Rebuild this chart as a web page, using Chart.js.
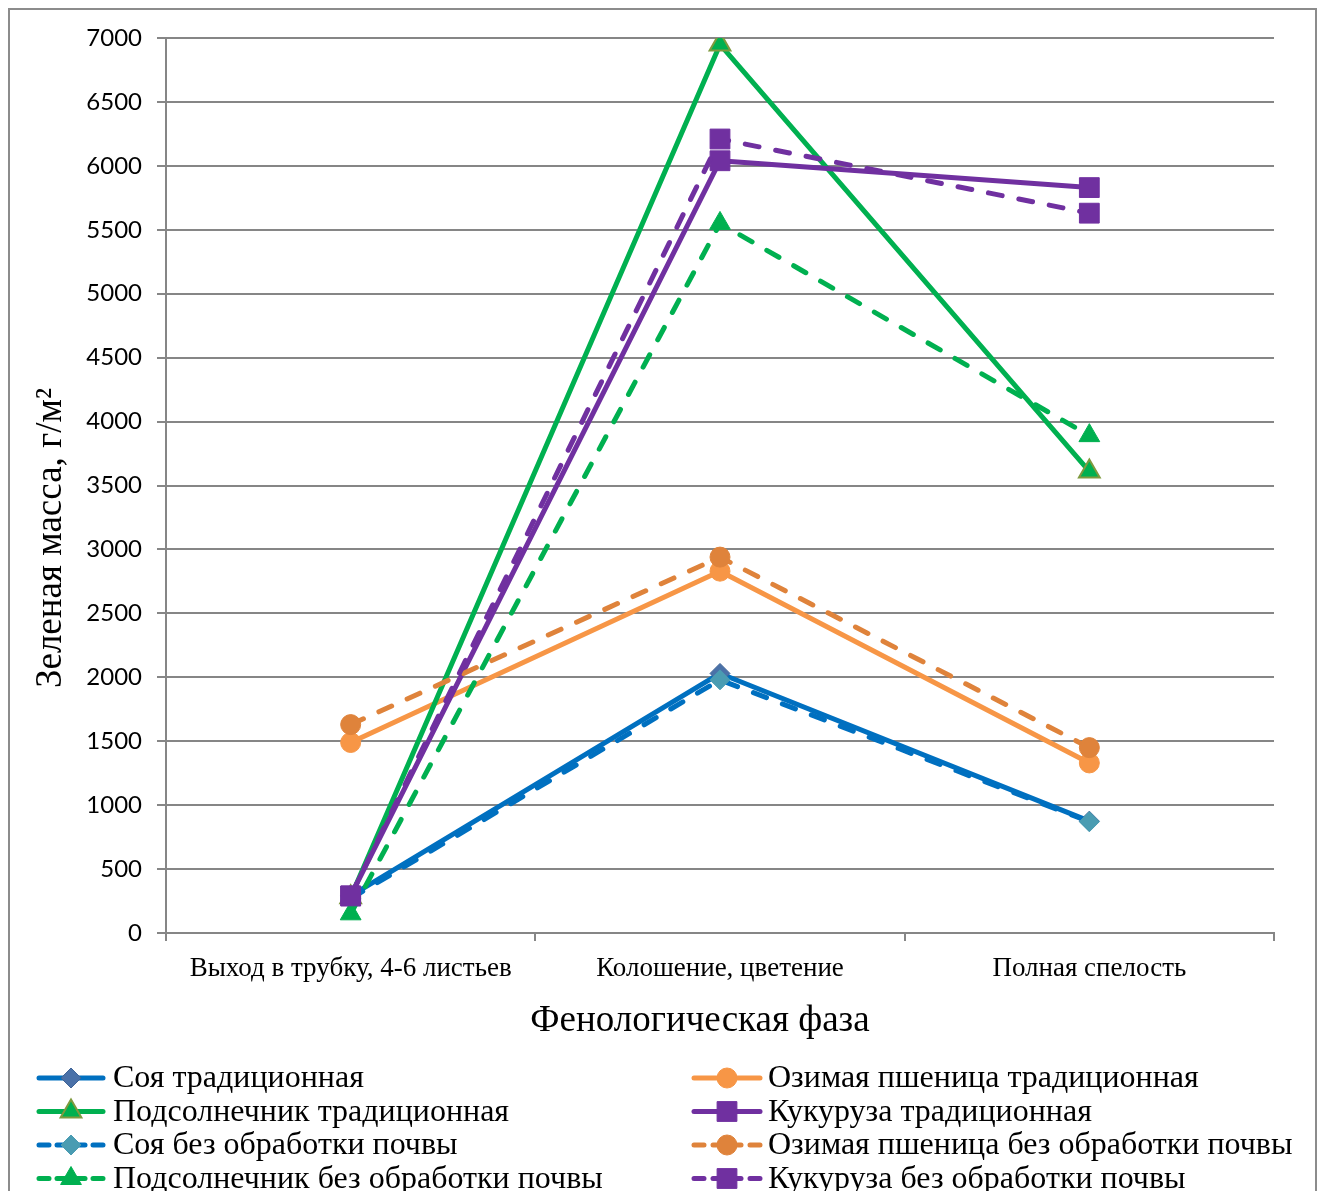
<!DOCTYPE html>
<html>
<head>
<meta charset="utf-8">
<script src="https://cdn.jsdelivr.net/npm/chart.js@4.4.1/dist/chart.umd.min.js"></script>
<style>
  html, body { margin: 0; padding: 0; background: #fff; }
  #wrap { position: relative; width: 1327px; height: 1191px; }
  #frame { position: absolute; left: 8px; top: 8px; width: 1309px; height: 1200px;
           border: 2px solid #8c8c8c; box-sizing: border-box; }
  canvas { position: absolute; left: 0; top: 0; }
</style>
</head>
<body>
<div id="wrap">
  <div id="frame"></div>
  <canvas id="c" width="1327" height="1191"></canvas>
</div>
<script>
// Phenological phases (x categories)
const phases = ['Выход в трубку, 4-6 листьев', 'Колошение, цветение', 'Полная спелость'];
const yTicks = [0, 500, 1000, 1500, 2000, 2500, 3000, 3500, 4000, 4500, 5000, 5500, 6000, 6500, 7000];

// Green mass, g/m² per phase
const soyTrad        = [290, 2030, 875];
const wheatTrad      = [1490, 2830, 1330];
const sunflowerTrad  = [280, 6950, 3610];
const cornTrad       = [290, 6040, 5830];
const soyNoTill      = [270, 1980, 870];
const wheatNoTill    = [1630, 2940, 1450];
const sunflowerNoTill= [150, 5550, 3890];
const cornNoTill     = [290, 6210, 5630];

const seriesNames = [
  'Соя традиционная', 'Озимая пшеница традиционная',
  'Подсолнечник традиционная', 'Кукуруза традиционная',
  'Соя без обработки почвы', 'Озимая пшеница без обработки почвы',
  'Подсолнечник без обработки почвы', 'Кукуруза без обработки почвы'
];
const seriesValues = [soyTrad, wheatTrad, sunflowerTrad, cornTrad,
                      soyNoTill, wheatNoTill, sunflowerNoTill, cornNoTill];

const styles = [
  { line: '#0070C0', fill: '#4A71A8', border: '#3F6497', shape: 'rectRot', r: 10, dash: [] },
  { line: '#F79646', fill: '#F79646', border: '#F79646', shape: 'circle',  r: 10, dash: [] },
  { line: '#00B050', fill: '#00B050', border: '#7F9A3E', shape: 'triangle', r: 12, dash: [], bw: 2 },
  { line: '#7030A0', fill: '#7030A0', border: '#7030A0', shape: 'rect',    r: 14, dash: [] },
  { line: '#0070C0', fill: '#4A9CB2', border: '#4A9CB2', shape: 'rectRot', r: 10, dash: [14, 17] },
  { line: '#DF833B', fill: '#DF833B', border: '#DF833B', shape: 'circle',  r: 10, dash: [14, 17] },
  { line: '#00B050', fill: '#00B050', border: '#00B050', shape: 'triangle', r: 12, dash: [14, 17] },
  { line: '#7030A0', fill: '#7030A0', border: '#7030A0', shape: 'rect',    r: 14, dash: [14, 17] }
];

const datasets = seriesNames.map((name, i) => ({
  label: name,
  data: seriesValues[i],
  borderColor: styles[i].line,
  borderWidth: 5,
  borderDash: styles[i].dash,
  borderCapStyle: 'round',
  borderJoinStyle: 'round',
  pointStyle: styles[i].shape,
  pointRadius: styles[i].r,
  pointBackgroundColor: styles[i].fill,
  pointBorderColor: styles[i].border,
  pointBorderWidth: styles[i].bw || 1,
  tension: 0,
  fill: false,
  order: seriesNames.length - i
}));

const SERIF = '"Liberation Serif", "Times New Roman", serif';

// Axis titles and two-column legend drawn onto the canvas
const decorations = {
  id: 'decorations',
  afterDraw(chart) {
    const ctx = chart.ctx;
    ctx.save();
    ctx.fillStyle = '#000';
    ctx.textBaseline = 'middle';

    // X axis title
    ctx.font = '37px ' + SERIF;
    ctx.textAlign = 'center';
    ctx.fillText('Фенологическая фаза', 700, 1021);

    // Y axis title (rotated)
    ctx.save();
    ctx.translate(51, 538);
    ctx.rotate(-Math.PI / 2);
    ctx.font = '37px ' + SERIF;
    ctx.textAlign = 'center';
    ctx.fillText('Зеленая масса, г/м²', 0, 0);
    ctx.restore();

    // Legend
    const rows = [1078, 1111.5, 1145, 1178.5];
    const cols = [{ x0: 37, x1: 105, tx: 113 }, { x0: 692, x1: 762, tx: 768 }];
    chart.data.datasets.forEach((ds, i) => {
      const col = cols[i % 2];
      const y = rows[Math.floor(i / 2)];
      const st = styles[i];
      ctx.save();
      ctx.strokeStyle = st.line;
      ctx.lineWidth = 5;
      ctx.lineCap = 'round';
      if (st.dash.length) {
        // short dash segments on each side of the marker
        const mid = (col.x0 + col.x1) / 2;
        ctx.beginPath();
        ctx.moveTo(col.x0 + 2, y); ctx.lineTo(col.x0 + 12, y);
        ctx.moveTo(col.x1 - 12, y); ctx.lineTo(col.x1 - 2, y);
        ctx.stroke();
        ctx.beginPath();
        ctx.moveTo(mid - 14, y); ctx.lineTo(mid + 14, y);
        ctx.stroke();
      } else {
        ctx.beginPath();
        ctx.moveTo(col.x0 + 2, y); ctx.lineTo(col.x1 - 2, y);
        ctx.stroke();
      }
      ctx.restore();
      ctx.save();
      ctx.fillStyle = st.fill;
      ctx.strokeStyle = st.border;
      ctx.lineWidth = st.bw || 1;
      Chart.helpers.drawPoint(ctx, { pointStyle: st.shape, radius: st.r, borderWidth: st.bw || 1, rotation: 0 },
        (col.x0 + col.x1) / 2, y);
      ctx.restore();

      ctx.fillStyle = '#000';
      ctx.textAlign = 'left';
      ctx.font = '32px ' + SERIF;
      ctx.fillText(ds.label, col.tx, y + 1);
    });
    ctx.restore();
  }
};

new Chart(document.getElementById('c'), {
  type: 'line',
  data: { labels: phases, datasets },
  options: {
    responsive: false,
    animation: false,
    events: [],
    layout: { padding: { left: 0, top: 38, right: 53, bottom: 1191 - 1000 } },
    plugins: { legend: { display: false }, tooltip: { enabled: false } },
    scales: {
      x: {
        type: 'category',
        offset: true,
        grid: { offset: true, drawOnChartArea: false, drawTicks: true, tickLength: 8, color: '#868686', lineWidth: 2 },
        border: { display: true, color: '#868686', width: 2 },
        ticks: {
          color: '#000', padding: 12, maxRotation: 0,
          font: { family: SERIF, size: 27 }
        },
        afterFit(scale) { scale.height = 1000 - 933; }
      },
      y: {
        min: 0, max: 7000,
        afterBuildTicks(scale) { scale.ticks = yTicks.map(v => ({ value: v })); },
        grid: { color: '#868686', lineWidth: 2, tickLength: 9 },
        border: { display: true, color: '#868686', width: 2 },
        ticks: {
          color: '#000', padding: 15,
          callback: (v) => String(v),
          font: { family: 'Lato, "Open Sans", sans-serif', size: 24 }
        },
        afterFit(scale) { scale.width = 166; }
      }
    }
  },
  plugins: [decorations]
});
</script>
</body>
</html>
